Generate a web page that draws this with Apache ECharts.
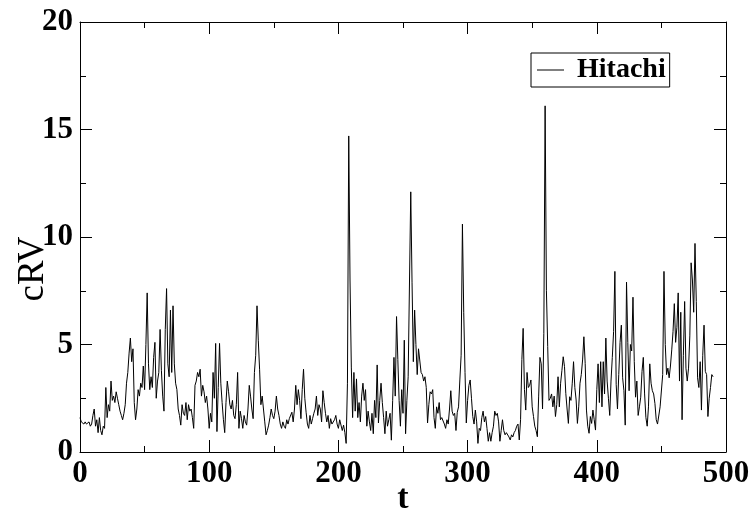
<!DOCTYPE html>
<html>
<head>
<meta charset="utf-8">
<script src="https://cdn.jsdelivr.net/npm/echarts@6/dist/echarts.min.js"></script>
<style>html,body{margin:0;padding:0;background:#fff;}#c{width:749px;height:516px;}</style>
</head>
<body>
<div id="c"></div>
<script>
var seriesName = "Hitachi";
var xTicks = [0, 100, 200, 300, 400, 500];
var yTicks = [0, 5, 10, 15, 20];
var tStart = 0;
var cRV = [
1.6,1.4,1.4,1.3,1.4,1.3,1.3,1.4,1.2,1.3,
1.7,2.0,1.2,1.5,0.9,1.6,1.0,0.8,1.2,1.1,
3.0,1.6,2.2,1.9,3.3,2.4,2.6,2.3,2.8,2.5,
2.2,1.9,1.7,1.5,1.8,2.2,3.2,3.7,4.6,5.3,
4.2,4.8,2.3,1.5,2.0,2.9,2.6,3.2,3.0,4.0,
2.9,5.0,7.4,4.1,2.9,3.5,3.0,4.4,5.1,2.5,
3.3,3.7,5.7,3.8,2.6,1.9,5.7,7.6,4.1,3.5,
6.6,3.7,6.8,4.1,3.2,2.9,2.0,1.7,1.25,2.2,
1.8,1.7,2.3,1.5,2.2,1.9,2.0,1.6,1.1,3.1,
3.3,3.7,3.5,3.85,2.6,3.1,2.8,2.3,2.6,2.0,
1.1,1.8,1.4,3.7,2.5,5.05,0.95,3.0,5.05,3.2,
2.3,1.5,0.9,2.3,3.3,2.8,2.2,2.0,2.4,1.7,
1.55,2.2,3.7,1.1,1.9,1.55,1.1,1.7,1.4,1.25,
2.0,3.1,2.6,2.0,1.55,3.7,4.5,6.8,5.2,3.85,
2.2,2.6,2.0,1.4,0.8,1.0,1.25,1.6,2.0,1.7,
1.55,1.9,2.6,2.0,1.7,1.3,1.1,1.4,1.2,1.1,
1.5,1.3,1.55,1.6,1.85,1.4,2.0,3.1,2.2,2.9,
2.4,1.55,2.9,3.85,2.5,1.85,1.3,1.1,1.7,1.3,
1.55,1.8,2.0,2.6,1.7,2.2,2.0,1.4,2.85,2.3,
1.8,1.4,1.7,1.1,1.55,1.3,1.25,1.5,1.7,1.3,
1.1,1.5,1.55,1.0,1.25,0.9,0.4,3.2,14.7,8.0,
3.95,1.6,3.7,1.9,3.4,1.6,2.3,1.4,2.6,3.2,
2.4,2.9,1.2,1.9,1.4,1.0,1.8,0.85,2.4,1.6,
4.05,1.35,2.4,3.2,2.3,1.6,0.85,1.9,1.2,1.5,
1.8,0.55,2.4,4.4,2.6,6.3,4.3,2.4,1.2,2.9,
1.8,5.2,0.85,2.4,3.5,3.5,12.1,7.9,4.2,6.6,
5.0,3.6,4.8,4.8,3.7,3.6,3.3,3.5,3.0,1.35,
2.2,2.8,2.7,2.9,1.6,1.1,2.1,1.8,2.3,1.5,
1.6,1.6,1.3,1.1,1.5,1.3,2.0,2.85,1.9,1.7,
1.8,1.0,1.85,2.1,3.35,4.5,10.6,6.5,3.7,1.35,
2.4,3.1,3.35,2.5,1.65,1.3,1.95,1.4,0.4,1.1,
1.0,1.6,1.9,1.4,1.65,1.1,0.5,0.9,0.5,0.9,
1.2,1.9,1.7,1.8,1.4,0.5,1.0,1.5,1.0,0.8,
0.9,0.95,0.7,0.56,0.8,0.7,0.9,1.0,1.2,1.3,
0.56,1.5,4.3,5.75,2.9,1.95,3.7,3.0,3.1,3.35,
2.1,1.65,1.2,1.0,0.71,2.6,4.4,4.1,2.0,5.5,
16.1,7.5,4.9,2.4,2.5,2.7,2.1,2.6,1.65,2.2,
3.5,2.1,3.2,3.8,4.43,3.97,2.73,2.0,1.33,2.57,
2.4,3.2,4.2,3.0,2.42,1.33,2.1,3.2,3.6,4.28,
5.36,4.12,1.95,1.2,0.87,1.65,1.33,1.95,1.5,1.02,
2.9,4.1,2.3,4.2,2.1,4.2,2.7,5.3,3.3,2.5,
1.7,3.3,4.4,5.6,8.4,3.15,2.0,3.6,5.1,5.9,
3.45,2.85,1.25,7.9,5.1,2.85,5.0,4.7,7.2,4.2,
2.55,3.3,1.7,2.1,2.55,3.75,4.4,2.7,1.6,1.2,
2.1,4.1,3.2,2.85,2.7,2.25,1.5,1.3,1.25,2.1,
2.1,3.6,8.4,5.0,3.6,3.9,3.45,4.0,4.75,5.6,
6.9,5.1,5.8,7.4,3.3,6.5,1.5,4.5,7.0,3.9,
3.3,3.9,5.4,8.8,8.0,6.5,9.7,7.0,3.45,3.0,
4.2,1.95,4.5,5.9,3.75,3.6,1.65,2.5,3.0,3.6,3.5
];

var points = cRV.map(function (v, i) { return [tStart + i, v]; });
var serif = '"Liberation Serif", "DejaVu Serif", serif';

var chart = echarts.init(document.getElementById('c'), null, {renderer: 'canvas'});
var xMin = xTicks[0], xMax = xTicks[xTicks.length - 1];
var yMin = yTicks[0], yMax = yTicks[yTicks.length - 1];
var xInt = xTicks[1] - xTicks[0], yInt = yTicks[1] - yTicks[0];

function axisCommon(show) {
  return {
    axisLine: {show: true, onZero: false, lineStyle: {color: '#000', width: 1}},
    axisTick: {show: true, inside: true, length: 12, lineStyle: {color: '#000', width: 1}},
    minorTick: {show: true, splitNumber: 2, length: 6, lineStyle: {color: '#000', width: 1}},
    splitLine: {show: false},
    axisLabel: {show: show}
  };
}

var option = {
  backgroundColor: '#fff',
  animation: false,
  grid: {left: 80, right: 23, top: 22, bottom: 64, containLabel: false, outerBoundsMode: 'none'},
  legend: {
    show: true,
    data: [seriesName],
    left: 531, top: 53,
    orient: 'horizontal',
    icon: 'rect',
    itemWidth: 27, itemHeight: 1,
    itemGap: 10,
    padding: [3, 4, 3, 6],
    borderColor: '#000', borderWidth: 1,
    backgroundColor: '#fff',
    textStyle: {fontFamily: serif, fontSize: 28, fontWeight: 'bold', color: '#000', padding: [0, 0, 0, 8]}
  },
  xAxis: [
    Object.assign(axisCommon(true), {
      type: 'value', min: xMin, max: xMax, interval: xInt, position: 'bottom',
      name: 't', nameLocation: 'middle', nameGap: 30, nameMoveOverlap: false,
      nameTextStyle: {fontFamily: serif, fontSize: 34, fontWeight: 'bold', color: '#000'},
      axisLabel: {show: true, fontFamily: serif, fontSize: 31, fontWeight: 'bold', color: '#000', margin: 6}
    }),
    Object.assign(axisCommon(false), {
      type: 'value', min: xMin, max: xMax, interval: xInt, position: 'top'
    })
  ],
  yAxis: [
    Object.assign(axisCommon(true), {
      type: 'value', min: yMin, max: yMax, interval: yInt, position: 'left',
      name: 'cRV', nameLocation: 'middle', nameGap: 28, nameRotate: 90, nameMoveOverlap: false,
      nameTextStyle: {fontFamily: serif, fontSize: 37, color: '#000', padding: [0, 64, 0, 0]},
      axisLabel: {show: true, fontFamily: serif, fontSize: 31, fontWeight: 'bold', color: '#000', margin: 7}
    }),
    Object.assign(axisCommon(false), {
      type: 'value', min: yMin, max: yMax, interval: yInt, position: 'right'
    })
  ],
  series: [{
    name: seriesName,
    type: 'line',
    xAxisIndex: 0, yAxisIndex: 0,
    data: points,
    showSymbol: false,
    symbol: 'none',
    lineStyle: {color: '#000', width: 1},
    itemStyle: {color: '#000'},
    smooth: false
  }]
};
chart.setOption(option);
</script>
</body>
</html>
